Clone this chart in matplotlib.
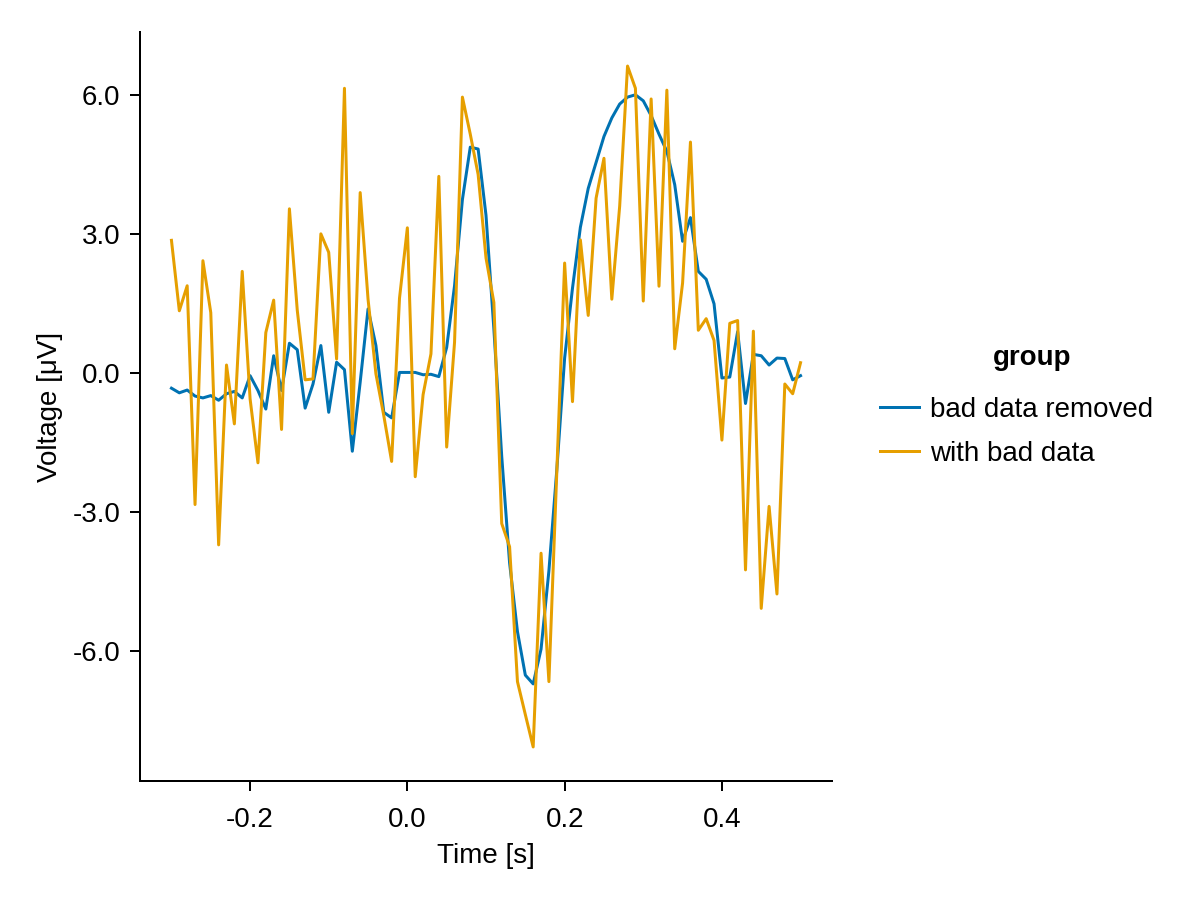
import matplotlib as mpl
mpl.use("Agg")
import matplotlib.pyplot as plt

# ---- Typography / lines ----
mpl.rcParams.update({
    "font.family": ["Liberation Sans", "DejaVu Sans"],
    "font.size": 20, "axes.labelsize": 20,
    "xtick.labelsize": 20, "ytick.labelsize": 20, "legend.fontsize": 20,
    "axes.linewidth": 1.44,
    "xtick.major.width": 1.44, "ytick.major.width": 1.44,
    "xtick.major.size": 7.2, "ytick.major.size": 7.2,
    "xtick.major.pad": 11.5, "ytick.major.pad": 7,
    "axes.spines.top": False, "axes.spines.right": False,
    "axes.unicode_minus": False,
})

COLOR = {"removed": "#0072B2", "bad": "#E69F00"}

# ---- Data ----
time_s = [
    -0.30, -0.29, -0.28, -0.27, -0.26, -0.25, -0.24, -0.23, -0.22, -0.21,
    -0.20, -0.19, -0.18, -0.17, -0.16, -0.15, -0.14, -0.13, -0.12, -0.11,
    -0.10, -0.09, -0.08, -0.07, -0.06, -0.05, -0.04, -0.03, -0.02, -0.01,
    0.00, 0.01, 0.02, 0.03, 0.04, 0.05, 0.06, 0.07, 0.08, 0.09,
    0.10, 0.11, 0.12, 0.13, 0.14, 0.15, 0.16, 0.17, 0.18, 0.19,
    0.20, 0.21, 0.22, 0.23, 0.24, 0.25, 0.26, 0.27, 0.28, 0.29,
    0.30, 0.31, 0.32, 0.33, 0.34, 0.35, 0.36, 0.37, 0.38, 0.39,
    0.40, 0.41, 0.42, 0.43, 0.44, 0.45, 0.46, 0.47, 0.48, 0.49,
    0.50,
]

bad_data_removed = [
    -0.33, -0.43, -0.37, -0.50, -0.54, -0.49, -0.59, -0.45, -0.40, -0.54,
    -0.06, -0.38, -0.78, 0.37, -0.38, 0.64, 0.50, -0.76, -0.24, 0.59,
    -0.85, 0.23, 0.07, -1.69, -0.20, 1.38, 0.59, -0.85, -0.97, 0.01,
    0.01, 0.01, -0.04, -0.03, -0.08, 0.55, 1.88, 3.74, 4.87, 4.83,
    3.40, 0.95, -1.80, -4.10, -5.58, -6.52, -6.71, -5.96, -4.27, -2.10,
    0.32, 1.83, 3.14, 3.98, 4.54, 5.10, 5.50, 5.80, 5.95, 6.00,
    5.87, 5.55, 5.15, 4.78, 4.06, 2.84, 3.35, 2.19, 2.02, 1.49,
    -0.11, -0.09, 0.89, -0.66, 0.40, 0.37, 0.17, 0.32, 0.31, -0.15,
    -0.06,
]

with_bad_data = [
    2.86, 1.34, 1.88, -2.84, 2.42, 1.30, -3.71, 0.17, -1.10, 2.19,
    -0.56, -1.94, 0.87, 1.57, -1.22, 3.54, 1.35, -0.15, -0.13, 3.00,
    2.60, 0.30, 6.14, -1.31, 3.89, 1.59, -0.02, -0.92, -1.91, 1.61,
    3.13, -2.24, -0.47, 0.41, 4.24, -1.60, 0.66, 5.95, 5.15, 4.28,
    2.48, 1.52, -3.25, -3.75, -6.66, -7.37, -8.07, -3.89, -6.66, -2.15,
    2.37, -0.62, 2.87, 1.24, 3.77, 4.63, 1.59, 3.60, 6.62, 6.14,
    1.55, 5.91, 1.87, 6.10, 0.52, 1.94, 4.98, 0.92, 1.17, 0.70,
    -1.45, 1.07, 1.13, -4.25, 0.90, -5.08, -2.88, -4.77, -0.24, -0.45,
    0.22,
]

x_ticks = [-0.2, 0.0, 0.2, 0.4]
y_ticks = [-6.0, -3.0, 0.0, 3.0, 6.0]

fig = plt.figure(figsize=(12, 9), dpi=100)
ax = fig.add_axes([140 / 1200, 1 - 781 / 900, 692 / 1200, 749 / 900])

ax.plot(time_s, bad_data_removed, color=COLOR["removed"], lw=2.16,
        label="bad data removed")
ax.plot(time_s, with_bad_data, color=COLOR["bad"], lw=2.16,
        label="with bad data")

ax.margins(x=0.05, y=0.05)
ax.set_xticks(x_ticks)
ax.set_xticklabels([f"{t:.1f}" for t in x_ticks])
ax.set_yticks(y_ticks)
ax.set_yticklabels([f"{t:.1f}" for t in y_ticks])
ax.set_xlabel("Time [s]", labelpad=7)
ax.set_ylabel("Voltage [μV]", labelpad=7)

# legend title drawn on its own so its gap to the entries can be matched
fig.text(1032 / 1200, 1 - 358 / 900, "group", fontweight="bold",
         ha="center", va="center")
fig.legend(loc="center left", bbox_to_anchor=(880 / 1200, 1 - 432 / 900),
           frameon=False, handlelength=1.4, handletextpad=0.4,
           labelspacing=0.66, borderpad=0.0, borderaxespad=0.0)

fig.savefig("out.png", dpi=100)
